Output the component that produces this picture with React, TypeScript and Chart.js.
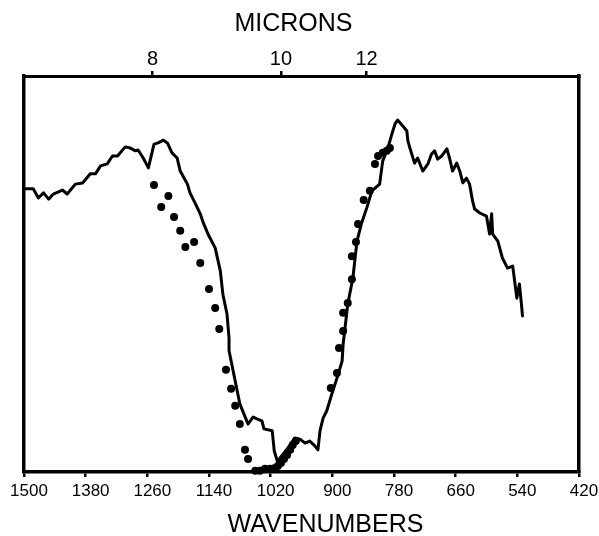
import React, { useEffect, useRef } from "react";
import { Chart, registerables } from "chart.js";

Chart.register(...registerables);

// Solid trace: wavenumber (cm-1) and relative value (0-100 of the frame height)
const spectrumWavenumbers = [
  1497, 1482, 1472, 1462, 1452, 1443, 1425, 1416, 1400, 1386,
  1371, 1361, 1351, 1338, 1328, 1318, 1303, 1293, 1283, 1278,
  1268, 1258, 1247, 1239, 1229, 1221, 1212, 1202, 1196, 1182,
  1177, 1167, 1157, 1151, 1142, 1128, 1118, 1113, 1105, 1101,
  1101, 1093, 1080, 1064, 1054, 1047, 1037, 1033, 1017, 1013,
  1006, 1002, 988, 973, 963, 953, 944, 934, 928, 924,
  918, 911, 901, 891, 881, 879, 876, 870, 860, 852,
  843, 833, 823, 808, 802, 792, 784, 778, 773, 763,
  755, 753, 749, 740, 734, 724, 714, 707, 701, 695,
  687, 677, 672, 666, 658, 652, 646, 639, 633, 627,
  623, 613, 600, 594, 590, 588, 578, 569, 559, 549,
  541, 536, 532, 530,
];
const spectrumValues = [
  71.5, 71.5, 69.2, 70.5, 68.9, 70.2, 71.2, 70.2, 72.7, 73.0,
  75.3, 75.3, 77.3, 77.8, 79.8, 79.8, 82.1, 81.8, 81.1, 81.3,
  79.3, 76.8, 82.8, 83.1, 83.8, 83.1, 80.6, 79.3, 76.0, 72.7,
  70.5, 67.9, 65.2, 62.9, 60.1, 56.6, 50.8, 44.9, 39.9, 33.8,
  30.6, 25.5, 17.2, 12.1, 13.9, 13.4, 12.9, 10.9, 10.4, 5.3,
  2.3, 3.5, 5.8, 8.6, 8.3, 7.3, 7.8, 6.6, 5.6, 10.4,
  13.6, 15.4, 19.7, 23.7, 28.0, 32.3, 35.6, 42.4, 49.0, 58.3,
  62.9, 66.7, 71.0, 72.7, 78.5, 81.8, 85.4, 87.9, 88.9, 87.4,
  86.1, 83.6, 81.8, 78.0, 79.3, 76.0, 77.8, 80.3, 81.1, 79.0,
  79.8, 81.6, 79.3, 76.0, 78.0, 76.0, 73.0, 74.2, 72.7, 68.4,
  66.4, 65.4, 64.6, 60.1, 65.2, 60.1, 58.3, 54.0, 51.5, 52.0,
  43.9, 47.5, 42.4, 39.4,
];

// Dotted (computed) points
const dotWavenumbers = [
  1247, 1219, 1233, 1208, 1196, 1186, 1169, 1157, 1140, 1128,
  1120, 1107, 1097, 1089, 1080, 1070, 1064, 1050, 1041, 1031,
  1021, 1012, 1006, 1000, 994, 988, 982, 977, 971,
  903, 891, 887, 879, 879, 870, 862, 862, 854, 850,
  839, 827, 817, 811, 802, 794, 788,
];
const dotValues = [
  72.5, 69.7, 66.9, 64.4, 60.9, 56.8, 58.1, 52.8, 46.2, 41.4,
  36.1, 25.8, 21.0, 16.7, 12.1, 5.6, 3.3, 0.3, 0.3, 0.8,
  0.8, 1.0, 1.5, 2.3, 3.3, 4.3, 5.6, 6.8, 7.8,
  21.2, 25.0, 31.3, 35.6, 40.2, 42.7, 48.7, 54.5, 58.1, 62.6,
  68.7, 71.0, 77.8, 79.8, 80.6, 81.1, 81.8,
];

const wavenumberTicks = [1500, 1380, 1260, 1140, 1020, 900, 780, 660, 540, 420];
const micronTicks = [8, 10, 12];
const topTitle = "MICRONS";
const bottomTitle = "WAVENUMBERS";

const FONT = "'Liberation Sans', Arial, Helvetica, sans-serif";

export default function App() {
  const ref = useRef<HTMLCanvasElement>(null);

  useEffect(() => {
    const canvas = ref.current;
    if (!canvas) return;

    const titlePlugin = {
      id: "axisTitles",
      afterDraw(chart: any) {
        const ctx = chart.ctx;
        const area = chart.chartArea;
        const cx = (area.left + area.right) / 2;
        ctx.save();
        ctx.fillStyle = "#000";
        ctx.font = `25px ${FONT}`;
        ctx.textAlign = "center";
        ctx.textBaseline = "middle";
        ctx.fillText(topTitle, cx - 8, 24);
        ctx.fillText(bottomTitle, cx + 24, 525);
        ctx.restore();
      },
    };

    const chart = new Chart(canvas, {
      type: "line",
      data: {
        datasets: [
          {
            label: "observed",
            data: spectrumWavenumbers.map((x, i) => ({ x, y: spectrumValues[i] })),
            borderColor: "#000",
            borderWidth: 3,
            pointRadius: 0,
            tension: 0,
            fill: false,
            borderJoinStyle: "round",
            borderCapStyle: "round",
            xAxisID: "x",
            yAxisID: "y",
          },
          {
            label: "computed",
            data: dotWavenumbers.map((x, i) => ({ x, y: dotValues[i] })),
            showLine: false,
            pointRadius: 4,
            pointBackgroundColor: "#000",
            pointBorderWidth: 0,
            borderColor: "#000",
            clip: false,
            xAxisID: "x",
            yAxisID: "y",
          },
        ],
      },
      options: {
        responsive: false,
        maintainAspectRatio: false,
        animation: false,
        devicePixelRatio: 1,
        layout: { padding: 0 },
        plugins: { legend: { display: false }, tooltip: { enabled: false } },
        scales: {
          x: {
            type: "linear",
            position: "bottom",
            reverse: true,
            min: 420,
            max: 1500,
            afterBuildTicks: (s: any) => {
              s.ticks = wavenumberTicks.map((v) => ({ value: v }));
            },
            afterFit: (s: any) => {
              s.height = 64;
            },
            ticks: {
              color: "#000",
              font: { family: FONT, size: 17 },
              padding: 4,
              labelOffset: 5,
              maxRotation: 0,
              autoSkip: false,
              callback: (v: any) => String(v),
            },
            grid: {
              drawOnChartArea: false,
              drawTicks: true,
              tickLength: 5,
              color: "#000",
              lineWidth: 2.5,
            },
            border: { display: true, color: "#000", width: 3.5 },
          },
          x2: {
            type: "linear",
            position: "top",
            reverse: true,
            min: 420,
            max: 1500,
            afterBuildTicks: (s: any) => {
              s.ticks = micronTicks.map((m) => ({ value: 10000 / m }));
            },
            afterFit: (s: any) => {
              s.height = 76;
            },
            ticks: {
              color: "#000",
              font: { family: FONT, size: 20 },
              padding: 0,
              maxRotation: 0,
              autoSkip: false,
              callback: (v: any) => String(Math.round(10000 / Number(v))),
            },
            grid: {
              drawOnChartArea: false,
              drawTicks: true,
              tickLength: 5,
              color: "#000",
              lineWidth: 2.5,
            },
            border: { display: true, color: "#000", width: 3 },
          },
          y: {
            type: "linear",
            position: "left",
            min: 0,
            max: 100,
            ticks: { display: false },
            grid: { display: false, drawTicks: false },
            border: { display: true, color: "#000", width: 3.5 },
            afterFit: (s: any) => {
              s.width = 24;
            },
          },
          y2: {
            type: "linear",
            position: "right",
            min: 0,
            max: 100,
            ticks: { display: false },
            grid: { display: false, drawTicks: false },
            border: { display: true, color: "#000", width: 3.5 },
            afterFit: (s: any) => {
              s.width = 20;
            },
          },
        },
      },
      plugins: [titlePlugin],
    } as any);

    return () => chart.destroy();
  }, []);

  return (
    <div style={{ position: "fixed", left: 0, top: 0, width: 599, height: 536, background: "#fff" }}>
      <canvas ref={ref} width={599} height={536} style={{ display: "block", width: 599, height: 536 }} />
    </div>
  );
}
